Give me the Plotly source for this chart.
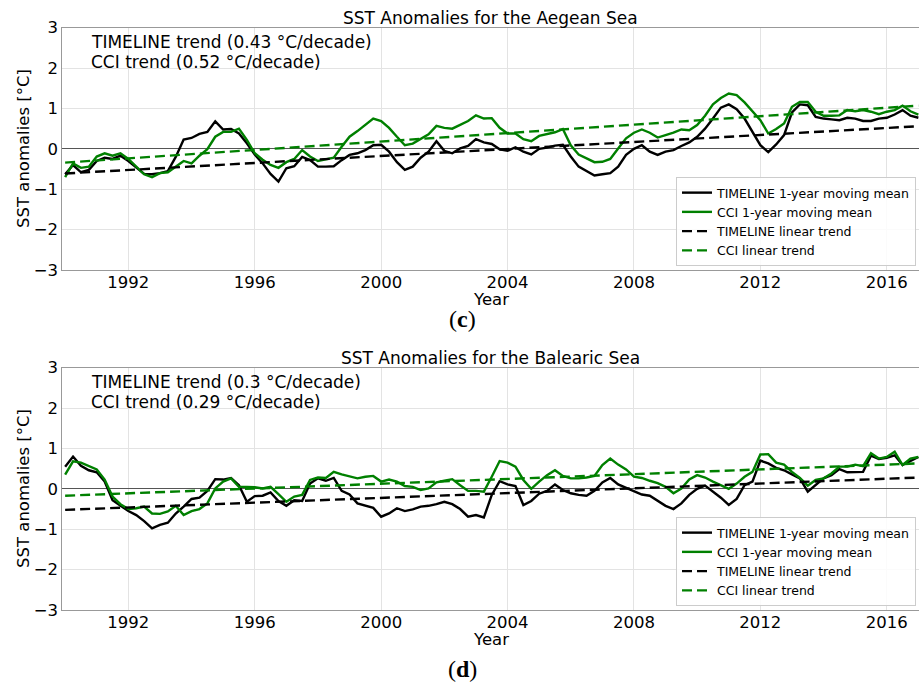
import plotly.graph_objects as go

# ---------------- data ----------------
years = [1990 + i / 4 for i in range(109)]  # quarterly samples 1990.00 .. 2017.00

aegean_timeline = [
    -0.63, -0.40, -0.58, -0.52,
    -0.30, -0.22, -0.25, -0.17,
    -0.30, -0.45, -0.62, -0.63,
    -0.60, -0.55, -0.20, 0.23,
    0.27, 0.37, 0.42, 0.68,
    0.48, 0.49, 0.38, 0.14,
    -0.14, -0.36, -0.62, -0.81,
    -0.48, -0.43, -0.20, -0.28,
    -0.44, -0.44, -0.43, -0.28,
    -0.15, -0.11, -0.03, 0.09,
    0.10, -0.07, -0.33, -0.52,
    -0.44, -0.22, -0.07, 0.19,
    -0.05, -0.11, 0.01, 0.07,
    0.24, 0.16, 0.12, -0.01,
    -0.05, 0.04, -0.07, -0.14,
    0.00, 0.03, 0.08, 0.10,
    -0.19, -0.44, -0.55, -0.66,
    -0.63, -0.60, -0.44, -0.15,
    0.00, 0.09, -0.07, -0.15,
    -0.07, -0.03, 0.07, 0.16,
    0.30, 0.50, 0.75, 1.02,
    1.10, 0.98, 0.75, 0.42,
    0.09, -0.08, 0.11, 0.34,
    0.90, 1.10, 1.08, 0.79,
    0.75, 0.73, 0.71, 0.77,
    0.75, 0.69, 0.69, 0.75,
    0.77, 0.85, 0.96, 0.82,
    0.77,
]
aegean_cci = [
    -0.70, -0.36, -0.47, -0.44,
    -0.19, -0.11, -0.17, -0.11,
    -0.25, -0.44, -0.63, -0.70,
    -0.60, -0.58, -0.44, -0.30,
    -0.36, -0.17, -0.01, 0.30,
    0.42, 0.42, 0.50, 0.22,
    -0.11, -0.27, -0.40, -0.47,
    -0.33, -0.25, -0.03, -0.19,
    -0.30, -0.26, -0.22, 0.05,
    0.30, 0.44, 0.60, 0.75,
    0.69, 0.52, 0.30, 0.09,
    0.13, 0.24, 0.36, 0.57,
    0.52, 0.50, 0.60, 0.69,
    0.83, 0.75, 0.76, 0.52,
    0.38, 0.38, 0.24, 0.19,
    0.32, 0.36, 0.41, 0.49,
    0.09, -0.14, -0.24, -0.33,
    -0.32, -0.25, 0.01, 0.26,
    0.40, 0.48, 0.40, 0.28,
    0.34, 0.40, 0.48, 0.46,
    0.59, 0.82, 1.10, 1.26,
    1.37, 1.33, 1.15, 0.93,
    0.71, 0.38, 0.49, 0.63,
    1.04, 1.16, 1.16, 0.92,
    0.82, 0.82, 0.83, 0.96,
    0.93, 0.96, 0.92, 0.86,
    0.92, 0.96, 1.07, 0.93,
    0.85,
]
balearic_timeline = [
    0.55, 0.80, 0.57, 0.46,
    0.41, 0.18, -0.28, -0.42,
    -0.55, -0.65, -0.80, -0.98,
    -0.89, -0.84, -0.61, -0.44,
    -0.25, -0.22, -0.05, 0.24,
    0.23, 0.27, 0.09, -0.32,
    -0.18, -0.17, -0.09, -0.30,
    -0.42, -0.28, -0.30, 0.13,
    0.26, 0.20, 0.27, -0.05,
    -0.14, -0.36, -0.42, -0.47,
    -0.69, -0.61, -0.48, -0.55,
    -0.51, -0.44, -0.42, -0.38,
    -0.32, -0.38, -0.50, -0.69,
    -0.65, -0.71, -0.15, 0.19,
    0.11, 0.07, -0.40, -0.30,
    -0.12, -0.05, 0.11, -0.03,
    -0.11, -0.15, -0.17, -0.05,
    0.16, 0.27, 0.11, 0.03,
    -0.07, -0.14, -0.17, -0.30,
    -0.42, -0.50, -0.36, -0.15,
    0.00, 0.08, -0.07, -0.22,
    -0.40, -0.25, 0.09, 0.18,
    0.70, 0.63, 0.52, 0.46,
    0.36, 0.26, -0.07, 0.09,
    0.26, 0.34, 0.49, 0.41,
    0.41, 0.42, 0.82, 0.74,
    0.77, 0.83, 0.59, 0.69,
    0.79,
]
balearic_cci = [
    0.35, 0.68, 0.65, 0.57,
    0.48, 0.23, -0.19, -0.38,
    -0.50, -0.48, -0.44, -0.61,
    -0.62, -0.56, -0.42, -0.65,
    -0.55, -0.50, -0.36, 0.01,
    0.18, 0.26, 0.05, 0.05,
    0.04, 0.01, 0.05, -0.13,
    -0.32, -0.19, -0.15, 0.22,
    0.28, 0.27, 0.42, 0.36,
    0.31, 0.26, 0.30, 0.32,
    0.18, 0.23, 0.18, 0.07,
    0.05, -0.03, 0.01, 0.16,
    0.20, 0.24, 0.09, -0.05,
    -0.05, -0.07, 0.30, 0.69,
    0.65, 0.55, 0.22, 0.00,
    0.18, 0.34, 0.46, 0.32,
    0.26, 0.26, 0.28, 0.32,
    0.59, 0.75, 0.60, 0.48,
    0.30, 0.27, 0.20, 0.14,
    0.05, -0.11, 0.01, 0.23,
    0.34, 0.28, 0.18, 0.09,
    0.00, 0.13, 0.30, 0.42,
    0.85, 0.86, 0.65, 0.60,
    0.42, 0.27, 0.08, 0.22,
    0.26, 0.38, 0.55, 0.55,
    0.60, 0.56, 0.88, 0.75,
    0.79, 0.92, 0.59, 0.75,
    0.79,
]

trend_years = [1990.0, 2017.0]
aegean_timeline_trend = [-0.61, 0.56]
aegean_cci_trend = [-0.34, 1.07]
balearic_timeline_trend = [-0.52, 0.28]
balearic_cci_trend = [-0.17, 0.63]

tick_years = [1992, 1996, 2000, 2004, 2008, 2012, 2016]
tick_labels = ["1992", "1996", "2000", "2004", "2008", "2012", "2016"]

titles = ["SST Anomalies for the Aegean Sea", "SST Anomalies for the Balearic Sea"]
trend_texts = [
    ["TIMELINE trend (0.43 °C/decade)", "CCI trend (0.52 °C/decade)"],
    ["TIMELINE trend (0.3 °C/decade)", "CCI trend (0.29 °C/decade)"],
]
panel_labels = ["(<b>c</b>)", "(<b>d</b>)"]
legend_names = ["TIMELINE 1-year moving mean", "CCI 1-year moving mean",
                "TIMELINE linear trend", "CCI linear trend"]

# ---------------- figure ----------------
BLACK = "#000000"
GREEN = "#008000"
W, H = 919, 688

fig = go.Figure()

panels = [
    (aegean_timeline, aegean_cci, aegean_timeline_trend, aegean_cci_trend, "x", "y", "legend"),
    (balearic_timeline, balearic_cci, balearic_timeline_trend, balearic_cci_trend, "x2", "y2", "legend2"),
]
for tl, cci, tlt, ccit, xa, ya, lg in panels:
    fig.add_trace(go.Scatter(x=years, y=tl, mode="lines", name=legend_names[0],
                             line=dict(color=BLACK, width=2.4), xaxis=xa, yaxis=ya, legend=lg))
    fig.add_trace(go.Scatter(x=years, y=cci, mode="lines", name=legend_names[1],
                             line=dict(color=GREEN, width=2.4), xaxis=xa, yaxis=ya, legend=lg))
    fig.add_trace(go.Scatter(x=trend_years, y=tlt, mode="lines", name=legend_names[2],
                             line=dict(color=BLACK, width=2.4, dash="10px,5px"), xaxis=xa, yaxis=ya, legend=lg))
    fig.add_trace(go.Scatter(x=trend_years, y=ccit, mode="lines", name=legend_names[3],
                             line=dict(color=GREEN, width=2.4, dash="10px,5px"), xaxis=xa, yaxis=ya, legend=lg))

# pixel geometry of the two plot areas (top, bottom in px from top)
x_left = 62.3
areas = [(27.7, 270.0), (367.7, 610.0)]

def py(p):
    return 1 - p / H

axis_common = dict(
    showgrid=True, gridcolor="#e3e3e3", gridwidth=1,
    showline=True, linecolor="#999999", linewidth=1, mirror=True,
    ticks="", tickfont=dict(size=16.5, color="#000"), automargin=False,
)
xcommon = dict(axis_common, range=[1989.91, 2017.02], tickvals=tick_years, ticktext=tick_labels,
               domain=[x_left / W, 1.0], zeroline=False, ticklabelstandoff=-3)
ycommon = dict(axis_common, range=[-3, 3], tickvals=[-3, -2, -1, 0, 1, 2, 3],
               ticktext=["\u22123", "\u22122", "\u22121", "0", "1", "2", "3"],
               zeroline=True, zerolinecolor="#555555", zerolinewidth=1)

fig.update_layout(
    width=W, height=H, autosize=False,
    margin=dict(l=0, r=0, t=0, b=0, pad=0, autoexpand=False),
    paper_bgcolor="white", plot_bgcolor="white",
    font=dict(family="DejaVu Sans", color="#000"),
    showlegend=True,
    xaxis=dict(xcommon, anchor="y"),
    yaxis=dict(ycommon, anchor="x", domain=[py(areas[0][1]), py(areas[0][0])]),
    xaxis2=dict(xcommon, anchor="y2"),
    yaxis2=dict(ycommon, anchor="x2", domain=[py(areas[1][1]), py(areas[1][0])]),
)

legend_common = dict(
    xanchor="right", yanchor="bottom", x=916 / W,
    bgcolor="rgba(255,255,255,0.85)", bordercolor="#cccccc", borderwidth=1,
    font=dict(size=12.5, color="#000"), itemwidth=30, tracegroupgap=0,
)
fig.update_layout(
    legend=dict(legend_common, y=py(266)),
    legend2=dict(legend_common, y=py(606)),
)

ann = []
x_center = (x_left + W) / 2 / W
for i, (top, bottom) in enumerate(areas):
    off = 340 * i
    ann.append(dict(text=titles[i], x=x_center, y=py(18 + off), xref="paper", yref="paper",
                    showarrow=False, font=dict(size=17), xanchor="center", yanchor="middle"))
    ann.append(dict(text=trend_texts[i][0], x=89 / W, y=py(42 + off), xref="paper", yref="paper",
                    showarrow=False, font=dict(size=17), xanchor="left", yanchor="middle"))
    ann.append(dict(text=trend_texts[i][1], x=89 / W, y=py(62 + off), xref="paper", yref="paper",
                    showarrow=False, font=dict(size=17), xanchor="left", yanchor="middle"))
    ann.append(dict(text="Year", x=x_center, y=py(299.5 + off), xref="paper", yref="paper",
                    showarrow=False, font=dict(size=16.5), xanchor="center", yanchor="middle"))
    ann.append(dict(text="SST anomalies [°C]", x=23 / W, y=py(149 + off), xref="paper", yref="paper",
                    showarrow=False, font=dict(size=16.5), textangle=-90, xanchor="center", yanchor="middle"))
    ann.append(dict(text=panel_labels[i], x=462 / W, y=py(319 + off + (10 if i else 0)), xref="paper", yref="paper",
                    showarrow=False, font=dict(size=24, family="Liberation Serif"),
                    xanchor="center", yanchor="middle"))
fig.update_layout(annotations=ann)

page_fix = (
    "document.body.style.margin='0';document.body.style.overflow='hidden';"
    "var d=document.getElementById('{plot_id}');"
    "d.style.position='absolute';d.style.left='0px';d.style.top='0px';"
)
fig.write_html("out.html", post_script=page_fix, config={"displayModeBar": False})
